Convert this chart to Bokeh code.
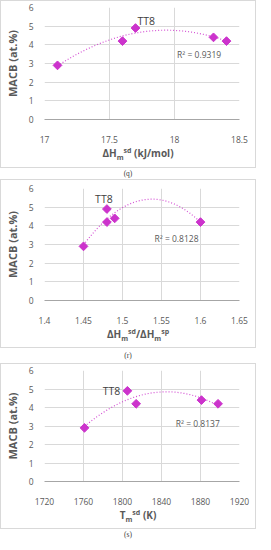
import numpy as np
from bokeh.plotting import figure
from bokeh.models import Range1d, FixedTicker, Label, Div
from bokeh.layouts import column
from bokeh.embed import file_html
from bokeh.resources import INLINE

# ---------------- data ----------------
q_x = [17.1, 17.6, 17.7, 18.3, 18.4]
q_y = [2.9, 4.2, 4.9, 4.4, 4.2]
r_x = [1.45, 1.48, 1.48, 1.49, 1.60]
r_y = [2.9, 4.2, 4.9, 4.4, 4.2]
s_x = [1761, 1814, 1805, 1881, 1898]
s_y = [2.9, 4.2, 4.9, 4.4, 4.2]
tt8_index = 2

q_xticks = [17, 17.5, 18, 18.5]
q_xlabels = ["17", "17.5", "18", "18.5"]
r_xticks = [1.4, 1.45, 1.5, 1.55, 1.6, 1.65]
r_xlabels = ["1.4", "1.45", "1.5", "1.55", "1.6", "1.65"]
s_xticks = [1720, 1760, 1800, 1840, 1880, 1920]
s_xlabels = ["1720", "1760", "1800", "1840", "1880", "1920"]
y_ticks = [0, 1, 2, 3, 4, 5, 6]

r2_texts = ["R\u00b2 = 0.9319", "R\u00b2 = 0.8128", "R\u00b2 = 0.8137"]
captions = ["(q)", "(r)", "(s)"]
y_title = "MACB (at.%)"
point_label = "TT8"
# x-axis titles: (text, kind) pieces, kind: n = normal, sub, sup
q_title = [("\u0394H", "n"), ("m", "sub"), ("sd", "sup"), (" (kJ/mol)", "n")]
r_title = [("\u0394H", "n"), ("m", "sub"), ("sd", "sup"), ("/\u0394H", "n"),
           ("m", "sub"), ("sp", "sup")]
s_title = [("T", "n"), ("m", "sub"), ("sd", "sup"), (" (K)", "n")]

# ---------------- style ----------------
MAG = "#CC33CC"
FONT = "Open Sans"
GRID = "#d9d9d9"
TXT = "#595959"
W = 254
LEFT = 36
RIGHT = 16


def panel(xs, ys, xr, xticks, xlabels, tt8_opts, r2_text, r2_xy, top, frame_h):
    p = figure(width=W, height=top + frame_h + 22, x_range=Range1d(*xr),
               y_range=Range1d(0, 6),
               output_backend="svg", toolbar_location=None,
               min_border_left=LEFT, min_border_right=RIGHT,
               min_border_top=top, min_border_bottom=22,
               outline_line_color=None, background_fill_color="white",
               border_fill_color="white")
    # axes
    p.xaxis.ticker = FixedTicker(ticks=xticks)
    p.xaxis.major_label_overrides = {t: l for t, l in zip(xticks, xlabels)}
    p.yaxis.ticker = FixedTicker(ticks=y_ticks)
    for ax in (p.xaxis, p.yaxis):
        ax.major_tick_line_color = None
        ax.minor_tick_line_color = None
        ax.major_label_text_font = FONT
        ax.major_label_text_font_size = "8.5px"
        ax.major_label_text_color = TXT
    p.xaxis.axis_line_color = "#a6a6a6"
    p.xaxis.major_label_standoff = 10
    p.yaxis.axis_line_color = None
    p.yaxis.major_label_standoff = 5
    p.yaxis.axis_label = y_title
    p.yaxis.axis_label_text_font = FONT
    p.yaxis.axis_label_text_font_style = "bold"
    p.yaxis.axis_label_text_font_size = "11px"
    p.yaxis.axis_label_text_color = TXT
    p.yaxis.axis_label_standoff = 6
    # grids
    p.xgrid.ticker = FixedTicker(ticks=xticks)
    p.ygrid.ticker = FixedTicker(ticks=y_ticks)
    p.xgrid.grid_line_color = GRID
    p.ygrid.grid_line_color = GRID

    # quadratic trend line (fit of the data, like the spreadsheet trendline)
    coef = np.polyfit(xs, ys, 2)
    tx = np.linspace(min(xs), max(xs), 120)
    p.line(tx, np.polyval(coef, tx), line_color=MAG, line_dash="1 2",
           line_width=1.2, line_alpha=0.85)
    p.scatter(xs, ys, marker="square", angle=np.pi / 4, size=6.2,
              fill_color=MAG, line_color=MAG)

    p.add_layout(Label(x=xs[tt8_index], y=ys[tt8_index], text=point_label,
                       text_font=FONT, text_font_size="10.5px", text_color="#404040",
                       text_baseline="middle", **tt8_opts))
    p.add_layout(Label(x=r2_xy[0], y=r2_xy[1], text=r2_text, text_font=FONT,
                       text_font_size="8.5px", text_color=TXT,
                       text_align="left", text_baseline="middle"))
    return p


def title_div(pieces, h, line_h):
    html = ""
    for txt, kind in pieces:
        txt = txt.replace(" ", "&nbsp;")
        if kind == "sub":
            html += f'<span style="font-size:7px;position:relative;top:3px">{txt}</span>'
        elif kind == "sup":
            html += f'<span style="font-size:7px;position:relative;top:-4px">{txt}</span>'
        else:
            html += txt
    inner = (f'<div style="box-sizing:border-box;width:{W - LEFT - RIGHT}px;'
             f'margin-left:{LEFT}px;text-align:center;'
             f'font-family:{FONT};font-weight:bold;font-size:10px;color:{TXT};'
             f'line-height:{line_h}px;white-space:nowrap">{html}</div>')
    return Div(text=inner, width=W, height=h, margin=0)


def boxed(p, d):
    return column(p, d, spacing=0, styles={"border": "1px solid #d9d9d9"})


def cap(text, h):
    return Div(text=text, width=256, height=h, margin=0,
               styles={"text-align": "center", "font-size": "7.5px",
                       "font-family": "Liberation Serif", "color": "#404040",
                       "line-height": f"{h}px"})


p1 = panel(q_x, q_y, (17, 18.5), q_xticks, q_xlabels,
           dict(x_offset=2, y_offset=7, text_align="left"),
           r2_texts[0], (18.02, 3.47), 6, 116)
p2 = panel(r_x, r_y, (1.4, 1.65), r_xticks, r_xlabels,
           dict(x_offset=-3, y_offset=10, text_align="center"),
           r2_texts[1], (1.541, 3.31), 8, 116)
p3 = panel(s_x, s_y, (1720, 1920), s_xticks, s_xlabels,
           dict(x_offset=-7, y_offset=0, text_align="right"),
           r2_texts[2], (1854.6, 3.13), 6, 115)

layout = column(boxed(p1, title_div(q_title, 22, 12)), cap(captions[0], 11),
                boxed(p2, title_div(r_title, 21, 14)), cap(captions[1], 15),
                boxed(p3, title_div(s_title, 21, 13)), cap(captions[2], 12),
                spacing=0)

open("out.html", "w").write(file_html(layout, INLINE))
